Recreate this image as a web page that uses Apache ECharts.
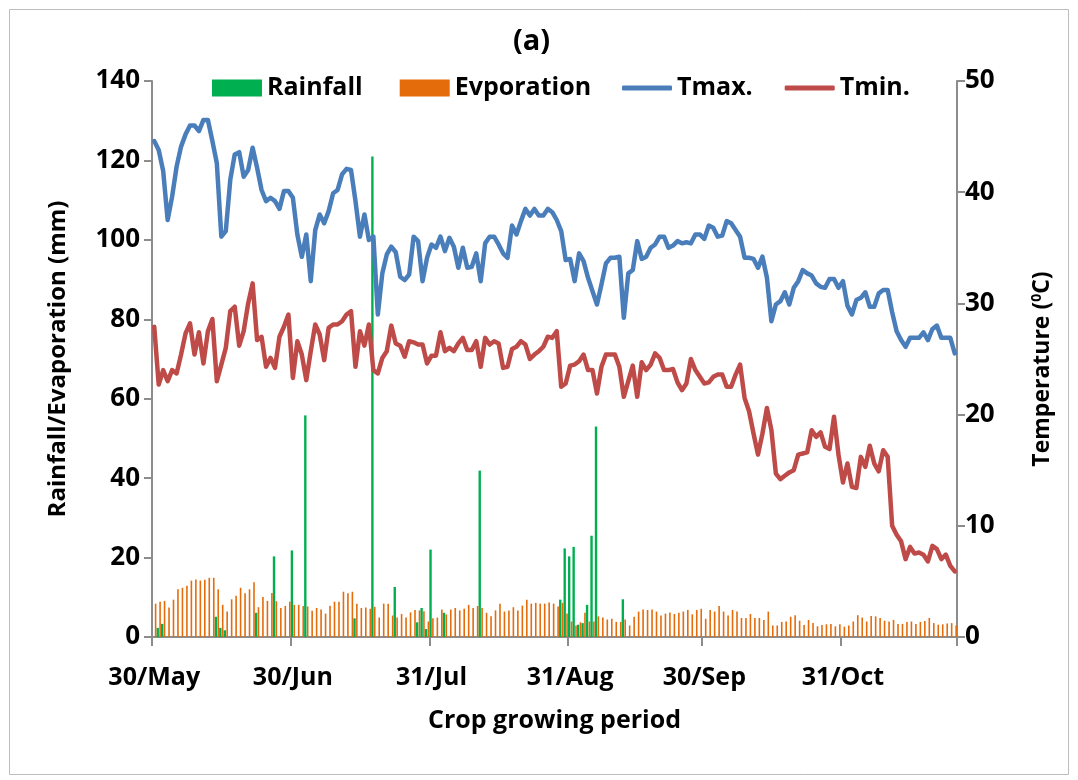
<!DOCTYPE html>
<html>
<head>
<meta charset="utf-8">
<script src="https://cdn.jsdelivr.net/npm/echarts@6/dist/echarts.min.js"></script>
<style>
html,body{margin:0;padding:0;background:#fff;}
#chart{width:1078px;height:780px;}
</style>
</head>
<body>
<div id="chart"></div>
<script>
// ---- Data (daily, 30 May .. 25 Nov) ----
const startDay = 30;              // first day in May
const monthNames = ['May','Jun','Jul','Aug','Sep','Oct','Nov'];
const monthLengths = [31,30,31,31,30,31,30];
const dayCount = 180;

const tickLabels = ['30/May','30/Jun','31/Jul','31/Aug','30/Sep','31/Oct'];

const rainfall = [
 0,2.3,3.3,0,0,0,0,0,0,0, 0,0,0,0,5.1,2.3,1.7,0,0,0,
 0,0,0,6.1,0,0,0,20.3,0,0, 0,21.8,0,0,55.8,0,0,0,0,0,
 0,0,0,0,0,4.7,0,0,0,121, 0,0,0,0,12.6,0,0,0,0,3.7,
 7.3,2.0,22.0,0,0,6.1,0,0,0,0, 0,0,0,41.9,0,0,0,0,0,0,
 0,0,0,0,0,0,0,0,0,0, 0,9.4,22.3,20.3,22.7,3.1,3.5,8.1,25.5,53.0,
 0,0,0,0,0,9.5,0,0,0,0, 0,0,0,0,0,0,0,0,0,0,
 0,0,0,0,0,0,0,0,0,0, 0,0,0,0,0,0,0,0,0,0,
 0,0,0,0,0,0,0,0,0,0, 0,0,0,0,0,0,0,0,0,0,
 0,0,0,0,0,0,0,0,0,0, 0,0,0,0,0,0,0,0,0,0
];

const evaporation = [
 8.4,8.9,9.1,7.4,9.4,12.0,12.4,12.9,14.2,14.5, 14.2,14.4,14.9,14.9,12.0,8.1,6.4,9.5,10.4,12.4,
 11.0,12.0,13.8,7.5,10.1,9.1,11.1,9.0,7.3,7.8, 8.9,8.1,8.1,7.8,7.7,6.6,7.3,6.9,5.9,7.9,
 8.9,8.9,11.4,11.0,11.4,8.4,7.3,7.4,7.1,7.6, 4.9,8.4,8.4,5.4,4.9,5.8,4.9,6.2,6.8,6.7,
 6.5,3.9,4.7,4.9,6.9,5.7,6.9,7.3,6.7,7.1, 8.1,7.3,7.8,7.3,6.1,5.2,6.7,8.4,6.4,6.7,
 7.5,6.7,7.9,9.4,8.4,8.6,8.4,8.4,8.7,8.4, 7.7,8.6,5.9,3.9,2.9,3.7,6.1,3.9,3.9,5.2,
 4.9,4.4,4.6,3.8,3.8,4.4,2.9,5.1,6.4,6.9, 6.8,6.9,6.4,5.4,5.9,6.2,5.8,6.1,6.4,6.8,
 5.7,6.8,7.1,4.6,6.8,6.4,7.8,6.4,5.4,6.8, 6.4,4.8,4.8,5.8,4.8,4.8,4.3,6.4,2.9,2.9,
 3.8,3.9,5.1,5.5,4.1,3.0,4.3,3.5,2.7,3.0, 3.2,3.3,2.7,3.2,2.6,2.9,3.9,5.5,4.9,3.9,
 5.3,5.2,4.8,4.1,3.9,4.3,3.3,3.3,3.8,3.9, 3.3,3.8,4.0,4.8,3.5,3.1,3.2,3.4,3.5,2.9
];

const tmax = [
 44.6,43.8,41.9,37.5,39.6,42.3,44.1,45.2,46.0,46.0, 45.5,46.5,46.5,44.6,42.6,36.0,36.5,41.1,43.4,43.6,
 41.4,42.0,44.0,42.2,40.2,39.2,39.5,39.2,38.5,40.1, 40.1,39.5,36.2,34.2,36.2,32.0,36.6,38.0,37.2,38.3,
 39.9,40.2,41.6,42.1,42.0,39.2,36.0,38.0,35.7,36.0, 29.0,32.7,34.4,35.1,34.6,32.4,32.1,32.6,36.0,35.6,
 32.0,34.1,35.3,35.0,36.0,34.7,35.9,35.1,33.2,35.0, 33.2,33.3,34.5,32.0,35.4,36.0,36.0,35.3,34.5,34.1,
 37.0,36.2,37.4,38.5,37.9,38.5,37.9,37.9,38.5,38.2, 37.5,36.5,33.9,34.0,32.0,34.5,33.8,32.3,31.1,29.9,
 31.7,33.6,34.1,34.1,34.2,28.7,32.7,33.0,35.6,34.0, 34.2,35.0,35.3,36.0,36.0,35.0,35.2,35.6,35.4,35.5,
 35.4,36.2,36.2,35.8,37.0,36.8,36.0,36.1,37.4,37.2, 36.6,36.0,34.1,34.1,34.0,33.2,34.2,32.3,28.4,29.9,
 30.2,31.0,29.9,31.4,32.0,33.0,32.7,32.5,31.8,31.5, 31.4,32.2,32.2,31.4,32.0,29.8,29.0,30.3,30.5,31.0,
 29.7,29.7,30.9,31.2,31.2,29.2,27.5,26.7,26.1,26.9, 26.9,26.9,27.4,26.7,27.7,28.0,26.9,26.9,26.9,25.5
];

const tmin = [
 27.9,22.7,24.0,23.0,24.0,23.7,25.4,27.3,28.2,25.4, 27.4,24.6,27.5,28.6,23.0,24.5,26.0,29.3,29.7,26.2,
 27.5,30.0,31.8,26.7,27.0,24.3,25.1,24.2,27.0,27.9, 29.0,23.3,26.6,25.4,23.1,25.7,28.1,27.2,24.9,27.8,
 28.1,28.1,28.4,29.0,29.3,24.3,27.5,26.2,28.1,24.0, 23.7,25.1,25.7,28.0,26.4,26.2,25.2,26.6,26.5,26.3,
 26.3,24.6,25.3,25.3,27.4,25.7,26.0,25.7,26.4,26.9, 25.8,25.8,26.6,24.3,26.9,26.3,26.6,26.4,24.2,24.3,
 25.9,26.1,26.6,26.3,25.0,25.4,25.7,26.1,27.0,26.9, 27.5,22.5,22.8,24.4,24.5,24.8,25.4,24.0,24.0,21.9,
 24.3,25.4,25.4,25.4,24.3,21.6,23.0,24.4,21.6,24.7, 24.0,24.5,25.5,25.1,24.0,24.0,24.1,22.9,22.2,22.8,
 25.0,24.0,23.4,22.8,22.9,23.4,23.6,23.6,22.5,22.5, 23.6,24.5,21.5,20.3,18.3,16.4,18.3,20.6,18.6,14.7,
 14.2,14.5,14.8,15.0,16.4,16.5,16.6,18.6,18.0,18.4, 17.1,16.9,19.8,16.4,13.9,15.6,13.5,13.4,16.2,15.3,
 17.2,15.6,14.9,16.8,16.2,10.0,9.2,8.6,7.0,8.1, 7.5,7.6,7.4,6.8,8.2,7.9,7.0,7.4,6.4,5.9
];

// category labels: one per day
const dates = [];
(function(){
  let m = 0, d = startDay;
  for (let i = 0; i < dayCount; i++) {
    dates.push(d + '/' + monthNames[m]);
    d++;
    if (d > monthLengths[m]) { d = 1; m++; }
  }
})();

const FONT = "'Open Sans', 'Liberation Sans', sans-serif";
const AXIS_COLOR = '#8c8c8c';
const showIdx = (i) => tickLabels.indexOf(dates[i]) >= 0;

const chart = echarts.init(document.getElementById('chart'), null, {renderer: 'canvas'});
chart.setOption({
  animation: false,
  backgroundColor: '#ffffff',
  textStyle: {fontFamily: FONT, fontWeight: 'bold', color: '#000'},
  title: {
    text: '(a)', left: 513, top: 27, padding: 0,
    textStyle: {fontFamily: FONT, fontWeight: 'bold', fontSize: 29, color: '#000'}
  },
  graphic: [{
    type: 'rect', silent: true, z: -10,
    shape: {x: 9.5, y: 9.5, width: 1059, height: 765},
    style: {fill: 'none', stroke: '#bdbdbd', lineWidth: 1}
  }],
  legend: [{
    left: 212, top: 72, padding: 0, itemGap: 37,
    itemWidth: 50, itemHeight: 17,
    textStyle: {fontFamily: FONT, fontWeight: 'bold', fontSize: 25, color: '#000', lineHeight: 32},
    data: [{name: 'Rainfall', icon: 'rect'}, {name: 'Evporation', icon: 'rect'}]
  }, {
    left: 622, top: 72, padding: 0, itemGap: 32,
    itemWidth: 50, itemHeight: 5,
    textStyle: {fontFamily: FONT, fontWeight: 'bold', fontSize: 25, color: '#000', lineHeight: 32},
    data: [{name: 'Tmax.', icon: 'roundRect'}, {name: 'Tmin.', icon: 'roundRect'}]
  }],
  grid: {left: 152, right: 121, top: 81, bottom: 143, containLabel: false},
  xAxis: {
    type: 'category', data: dates, boundaryGap: true,
    name: 'Crop growing period', nameLocation: 'middle', nameGap: 71,
    nameTextStyle: {fontFamily: FONT, fontWeight: 'bold', fontSize: 25, color: '#000'},
    axisLine: {show: true, lineStyle: {color: AXIS_COLOR, width: 2}},
    axisTick: {show: true, length: 9, interval: (i) => showIdx(i), lineStyle: {color: AXIS_COLOR, width: 2}},
    axisLabel: {interval: (i) => showIdx(i), margin: 28, fontFamily: FONT, fontWeight: 'bold', fontSize: 25, color: '#000'},
    splitLine: {show: false}
  },
  yAxis: [{
    type: 'value', min: 0, max: 140, interval: 20, position: 'left',
    name: 'Rainfall/Evaporation (mm)', nameLocation: 'middle', nameGap: 82,
    nameTextStyle: {fontFamily: FONT, fontWeight: 'bold', fontSize: 24, color: '#000'},
    axisLine: {show: true, lineStyle: {color: AXIS_COLOR, width: 2}},
    axisTick: {show: true, length: 8, lineStyle: {color: AXIS_COLOR, width: 2}},
    axisLabel: {margin: 12, fontFamily: FONT, fontWeight: 'bold', fontSize: 26, color: '#000'},
    splitLine: {show: false}
  }, {
    type: 'value', min: 0, max: 50, interval: 10, position: 'right',
    name: 'Temperature ({sup|0}C)', nameLocation: 'middle', nameGap: 73,
    nameTextStyle: {
      fontFamily: FONT, fontWeight: 'bold', fontSize: 23, color: '#000',
      padding: [0, 20, 0, 0],
      rich: {sup: {fontFamily: FONT, fontWeight: 'bold', fontSize: 14, color: '#000', verticalAlign: 'top', padding: [0, 0, 10, 0]}}
    },
    axisLine: {show: true, lineStyle: {color: AXIS_COLOR, width: 2}},
    axisTick: {show: true, length: 8, lineStyle: {color: AXIS_COLOR, width: 2}},
    axisLabel: {margin: 8, fontFamily: FONT, fontWeight: 'bold', fontSize: 26, color: '#000'},
    splitLine: {show: false}
  }],
  series: [{
    name: 'Rainfall', type: 'bar', yAxisIndex: 0, data: rainfall,
    barWidth: 2.4, itemStyle: {color: '#00b050'}
  }, {
    name: 'Evporation', type: 'bar', yAxisIndex: 0, data: evaporation,
    barWidth: 1.6, barGap: '15%', itemStyle: {color: '#e46c0a'}
  }, {
    name: 'Tmax.', type: 'line', yAxisIndex: 1, data: tmax,
    symbol: 'none', itemStyle: {color: '#4a7ebb'},
    lineStyle: {color: '#4a7ebb', width: 4.5, join: 'round', cap: 'round'}
  }, {
    name: 'Tmin.', type: 'line', yAxisIndex: 1, data: tmin,
    symbol: 'none', itemStyle: {color: '#be4b48'},
    lineStyle: {color: '#be4b48', width: 4.5, join: 'round', cap: 'round'}
  }]
});
</script>
</body>
</html>
